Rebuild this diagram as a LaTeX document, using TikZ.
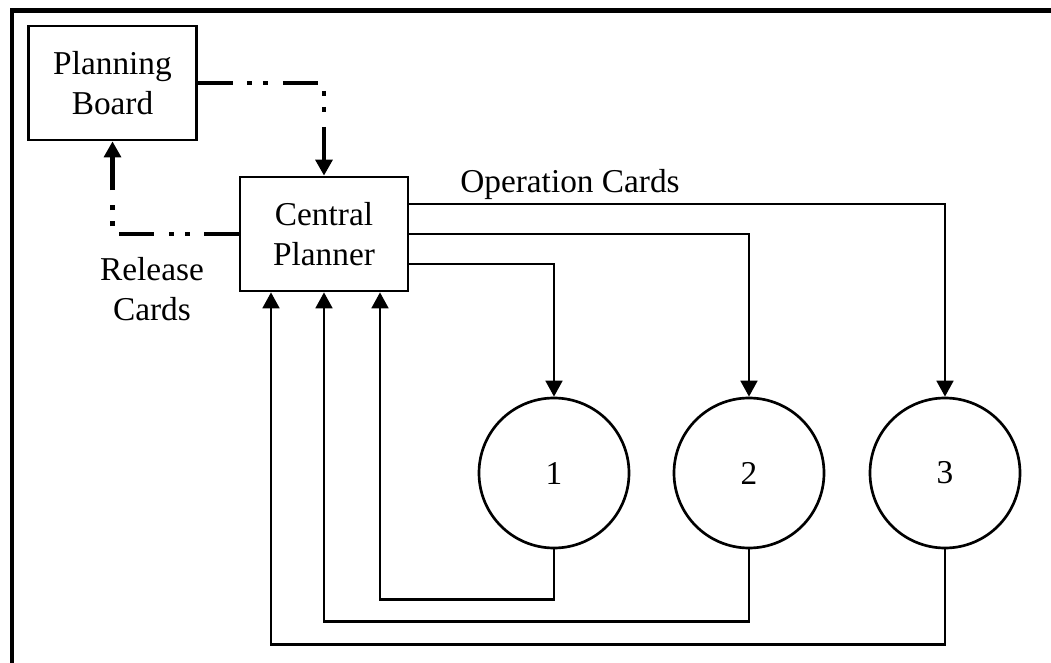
\documentclass[tikz,border=0pt]{standalone}
\usepackage{fontspec}
\setmainfont{Liberation Serif}
\usetikzlibrary{arrows.meta,calc}
\begin{document}
\begin{tikzpicture}[x=0.75pt,y=-0.75pt,
  lbl/.style={font=\fontsize{25pt}{30pt}\selectfont, align=center, inner sep=0pt},
  box/.style={lbl, draw, line width=2pt, minimum width=126pt, minimum height=85.5pt},
  station/.style={lbl, circle, draw, line width=2pt, minimum size=112.5pt},
  tip/.style={-{Triangle[width=12.5pt,length=12pt]}},
  conn/.style={tip, line width=2.1pt},
  dashdot/.style={tip, line width=3.2pt,
    dash pattern=on 26.25pt off 10.5pt on 3.75pt off 8.25pt on 3.75pt off 11.25pt},
  frameline/.style={line width=3.2pt}]
\useasboundingbox (0,0) rectangle (1051,663);
% frame
\coordinate (ftr) at (1051,10.5);
\coordinate (ftl) at (12,10.5);
\coordinate (fbl) at (12,663);
\draw[frameline] (ftr) -- (ftl) -- (fbl);
% nodes
\node[box] (pb) at (112.5,83) {Planning\\Board};
\node[box] (cp) at (324,234) {Central\\Planner};
\node[station] (c1) at (554,473) {1};
\node[station] (c2) at (749,473) {2};
\node[station] (c3) at (945,473) {3};
\node[lbl] (rc) at (152,289) {Release\\Cards};
\node[lbl] (oc) at (570,184) {Operation Cards};
% dash-dot connectors
\draw[dashdot] (pb.east) -| (cp.north);
\draw[dashdot] (cp.west) -| (pb.south);
% operation cards
\coordinate (o3) at ($(cp.east)+(0,-30)$);
\coordinate (o2) at (cp.east);
\coordinate (o1) at ($(cp.east)+(0,30)$);
\draw[conn] (o3) -| (c3.north);
\draw[conn] (o2) -| (c2.north);
\draw[conn] (o1) -| (c1.north);
% returns
\coordinate (r1) at ($(c1.south)+(0,50)$);
\coordinate (r2) at ($(c2.south)+(0,72)$);
\coordinate (r3) at ($(c3.south)+(0,95)$);
\coordinate (i1) at ($(cp.south)+(56,0)$);
\coordinate (i2) at (cp.south);
\coordinate (i3) at ($(cp.south)+(-53,0)$);
\draw[conn] (c1.south) -- (r1) -| (i1);
\draw[conn] (c2.south) -- (r2) -| (i2);
\draw[conn] (c3.south) -- (r3) -| (i3);
\end{tikzpicture}
\end{document}
